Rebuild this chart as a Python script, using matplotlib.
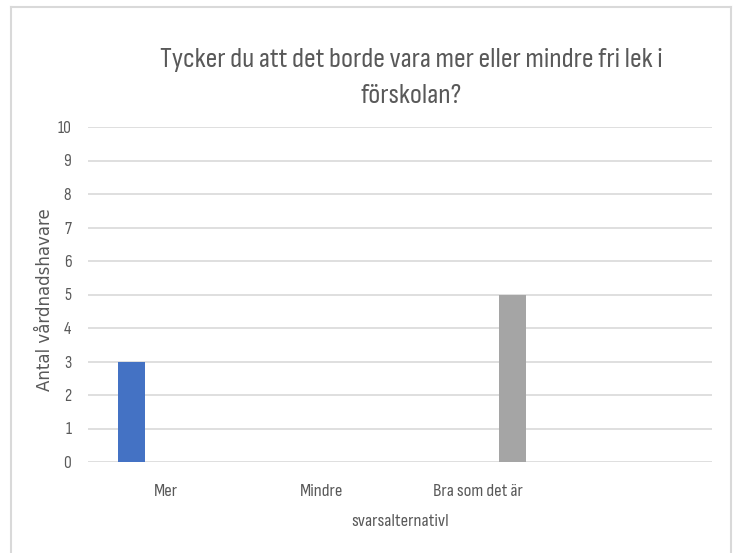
import matplotlib.pyplot as plt
import numpy as np
from matplotlib.lines import Line2D

categories = ["Mer", "Mindre", "Bra som det är", ""]
series_names = ["Mer", "Mindre", "Bra som det är"]
series_values = [
    [3, 0, 0, 0],
    [0, 0, 0, 0],
    [0, 0, 5, 0],
]
series_colors = ["#4472C4", "#ED7D31", "#A5A5A5"]
yticks = list(range(0, 11))

plt.rcParams['font.family'] = ['Sofia Sans Condensed', 'DejaVu Sans']
txt_color = '#595959'

fig = plt.figure(figsize=(7.36, 5.53), dpi=100)
ax = fig.add_axes([88 / 736, 1 - 462 / 553, 624 / 736, 335 / 553])

x = np.arange(len(categories))
offsets = [-0.224, 0.0, 0.224]
width = 0.173
for vals, off, col in zip(series_values, offsets, series_colors):
    ax.bar(x + off, vals, width, color=col, zorder=3, linewidth=0)

ax.set_xlim(-0.5, len(categories) - 0.5)
ax.set_ylim(0, 10)
ax.set_yticks(yticks)
ax.set_xticks(x)
ax.set_xticklabels(categories)
ax.grid(axis='y', color='#d9d9d9', linewidth=1.2, zorder=0)
ax.tick_params(axis='both', length=0, colors=txt_color, labelsize=12.5)
ax.tick_params(axis='x', pad=16, labelsize=13.5)
ax.tick_params(axis='y', pad=12)
for s in ax.spines.values():
    s.set_visible(False)

fig.text(411 / 736, 1 - 60 / 553, "Tycker du att det borde vara mer eller mindre fri lek i",
         ha='center', va='center', fontsize=20.8, color=txt_color)
fig.text(411 / 736, 1 - 96 / 553, "förskolan?",
         ha='center', va='center', fontsize=20.8, color=txt_color)
fig.text(45 / 736, 1 - 300 / 553, "Antal vårdnadshavare", rotation=90,
         ha='center', va='center', fontsize=12, color=txt_color,
         family=['DejaVu Sans'])
fig.text(400 / 736, 1 - 522 / 553, "svarsalternativl",
         ha='center', va='center', fontsize=13.5, color=txt_color)

# chart frame
bc = '#d9d9d9'
fig.add_artist(Line2D([11 / 736, 11 / 736], [0, 1 - 7 / 553], color=bc, lw=1.5))
fig.add_artist(Line2D([11 / 736, 731 / 736], [1 - 7 / 553, 1 - 7 / 553], color=bc, lw=1.5))
fig.add_artist(Line2D([731 / 736, 731 / 736], [0, 1 - 7 / 553], color=bc, lw=1.5))

fig.savefig("out.png", dpi=100)
